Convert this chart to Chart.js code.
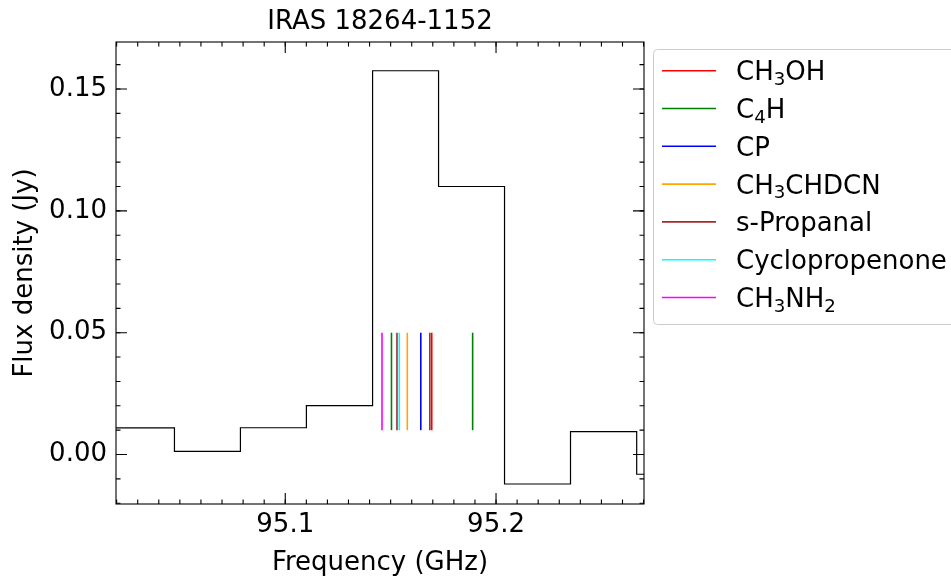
<!DOCTYPE html>
<html>
<head>
<meta charset="utf-8">
<script src="https://cdn.jsdelivr.net/npm/chart.js@4/dist/chart.umd.min.js"></script>
<style>
  html, body { margin: 0; padding: 0; background: #ffffff; }
  #wrap { width: 951px; height: 581px; }
  canvas { display: block; }
</style>
</head>
<body>
<div id="wrap"><canvas id="c" width="951" height="581"></canvas></div>
<script>
// Spectrum: channel centres (GHz) and flux density (Jy)
const channelFreq = [95.0317, 95.0631, 95.0944, 95.1257, 95.1571, 95.1884, 95.2197, 95.2510, 95.2824];
const channelFlux = [0.0109, 0.0013, 0.0110, 0.0201, 0.1575, 0.1100, -0.0121, 0.0094, -0.0081];

// Line identifications (rest frequencies, GHz); "_n" marks a subscript
const species      = ['CH_3OH', 'C_4H', 'CP', 'CH_3CHDCN', 's-Propanal', 'Cyclopropenone', 'CH_3NH_2'];
const speciesColor = ['#ff0000', '#008000', '#0000ff', '#ffa500', '#a52a2a', '#00ffff', '#ff00ff'];
const lineFreq     = [[95.1695], [95.1504, 95.1889], [95.1643], [95.1579], [95.1530, 95.1686], [95.1541], [95.1459]];
const markerRange  = [0.01, 0.05];

// Axes
const xRange = [95.0197, 95.2702];
const yRange = [-0.0203, 0.1693];
const xTicks = [95.1, 95.2];
const yTicks = [0.00, 0.05, 0.10, 0.15];
const xMinorStep = 0.01;
const yMinorStep = 0.01;

const titleText = 'IRAS 18264-1152';
const xLabel = 'Frequency (GHz)';
const yLabel = 'Flux density (Jy)';

const FONT = '"DejaVu Sans", "Liberation Sans", sans-serif';
const FS = 26;

// Histogram-style outline: channel edges, each holding its channel's value
function stepPoints(freq, flux) {
  const w = (freq[freq.length - 1] - freq[0]) / (freq.length - 1);
  const pts = freq.map((f, i) => ({ x: f - w / 2, y: flux[i] }));
  pts.push({ x: freq[freq.length - 1] + w / 2, y: flux[flux.length - 1] });
  return pts;
}

const datasets = [{
  data: stepPoints(channelFreq, channelFlux),
  stepped: 'before',
  borderColor: '#000000',
  borderWidth: 1.2,
  pointRadius: 0,
  fill: false
}];
species.forEach((name, i) => {
  lineFreq[i].forEach(f => {
    datasets.push({
      data: [{ x: f, y: markerRange[0] }, { x: f, y: markerRange[1] }],
      borderColor: speciesColor[i],
      borderWidth: 1.6,
      pointRadius: 0,
      fill: false
    });
  });
});

// Draw text where "_n" segments become subscripts
function drawRich(ctx, str, x, y, size) {
  const parts = [];
  const re = /_(\d+)/g;
  let last = 0, m;
  while ((m = re.exec(str)) !== null) {
    if (m.index > last) parts.push({ t: str.slice(last, m.index), sub: false });
    parts.push({ t: m[1], sub: true });
    last = re.lastIndex;
  }
  if (last < str.length) parts.push({ t: str.slice(last), sub: false });
  let cx = x;
  parts.forEach(p => {
    const fs = p.sub ? size * 0.7 : size;
    ctx.font = fs + 'px ' + FONT;
    ctx.fillText(p.t, cx, p.sub ? y + size * 0.18 : y);
    cx += ctx.measureText(p.t).width;
  });
}

const decorations = {
  id: 'decorations',
  afterDatasetsDraw(chart) {
    const { ctx, chartArea: a, scales: { x, y } } = chart;
    ctx.save();
    ctx.strokeStyle = '#000000';
    ctx.lineWidth = 1.1;

    // Inward ticks on all four sides
    const tick = (px, len, horizontal) => {
      ctx.beginPath();
      if (horizontal) {
        ctx.moveTo(px, a.bottom); ctx.lineTo(px, a.bottom - len);
        ctx.moveTo(px, a.top);    ctx.lineTo(px, a.top + len);
      } else {
        ctx.moveTo(a.left, px);  ctx.lineTo(a.left + len, px);
        ctx.moveTo(a.right, px); ctx.lineTo(a.right - len, px);
      }
      ctx.stroke();
    };
    for (let v = Math.ceil(xRange[0] / xMinorStep) * xMinorStep; v <= xRange[1]; v += xMinorStep) {
      tick(x.getPixelForValue(v), 4.5, true);
    }
    xTicks.forEach(v => tick(x.getPixelForValue(v), 11, true));
    for (let v = Math.ceil(yRange[0] / yMinorStep) * yMinorStep; v <= yRange[1]; v += yMinorStep) {
      tick(y.getPixelForValue(v), 4.5, false);
    }
    yTicks.forEach(v => tick(y.getPixelForValue(v), 11, false));

    // Frame
    ctx.strokeRect(a.left, a.top, a.right - a.left, a.bottom - a.top);

    // Title and axis labels
    ctx.fillStyle = '#000000';
    ctx.font = FS + 'px ' + FONT;
    ctx.textAlign = 'center';
    ctx.textBaseline = 'alphabetic';
    const cx = (a.left + a.right) / 2;
    ctx.fillText(titleText, cx, 29);
    ctx.fillText(xLabel, cx, 570);
    ctx.save();
    ctx.translate(32, (a.top + a.bottom) / 2);
    ctx.rotate(-Math.PI / 2);
    ctx.fillText(yLabel, 0, 0);
    ctx.restore();

    // Legend
    const lx = 653, ly = 49, lh = 275;
    ctx.fillStyle = 'rgba(255,255,255,0.8)';
    ctx.strokeStyle = '#cccccc';
    ctx.lineWidth = 1;
    ctx.beginPath();
    ctx.roundRect(lx + 0.5, ly + 0.5, 320, lh, 4);
    ctx.fill();
    ctx.stroke();
    ctx.textAlign = 'left';
    species.forEach((name, i) => {
      const yy = 70.7 + 37.8 * i;
      ctx.strokeStyle = speciesColor[i];
      ctx.lineWidth = 1.6;
      ctx.beginPath();
      ctx.moveTo(662, yy);
      ctx.lineTo(716, yy);
      ctx.stroke();
      ctx.fillStyle = '#000000';
      drawRich(ctx, name, 736, yy + 9.5, FS);
    });
    ctx.restore();
  }
};

new Chart(document.getElementById('c'), {
  type: 'line',
  data: { datasets },
  options: {
    responsive: false,
    animation: false,
    events: [],
    layout: { padding: { left: 0, right: 307, top: 42, bottom: 0 } },
    plugins: { legend: { display: false }, tooltip: { enabled: false }, title: { display: false } },
    scales: {
      x: {
        type: 'linear',
        min: xRange[0],
        max: xRange[1],
        afterBuildTicks: s => { s.ticks = xTicks.map(v => ({ value: v })); },
        afterFit: s => { s.height = 77; },
        grid: { display: false, drawTicks: false },
        border: { display: false },
        ticks: {
          autoSkip: false, maxRotation: 0, padding: 6, color: '#000000',
          font: { family: FONT, size: FS },
          callback: v => Number(v).toFixed(1)
        }
      },
      y: {
        type: 'linear',
        min: yRange[0],
        max: yRange[1],
        afterBuildTicks: s => { s.ticks = yTicks.map(v => ({ value: v })); },
        afterFit: s => { s.width = 116; },
        grid: { display: false, drawTicks: false },
        border: { display: false },
        ticks: {
          autoSkip: false, padding: 9, color: '#000000',
          font: { family: FONT, size: FS },
          callback: v => Number(v).toFixed(2)
        }
      }
    }
  },
  plugins: [decorations]
});
</script>
</body>
</html>
